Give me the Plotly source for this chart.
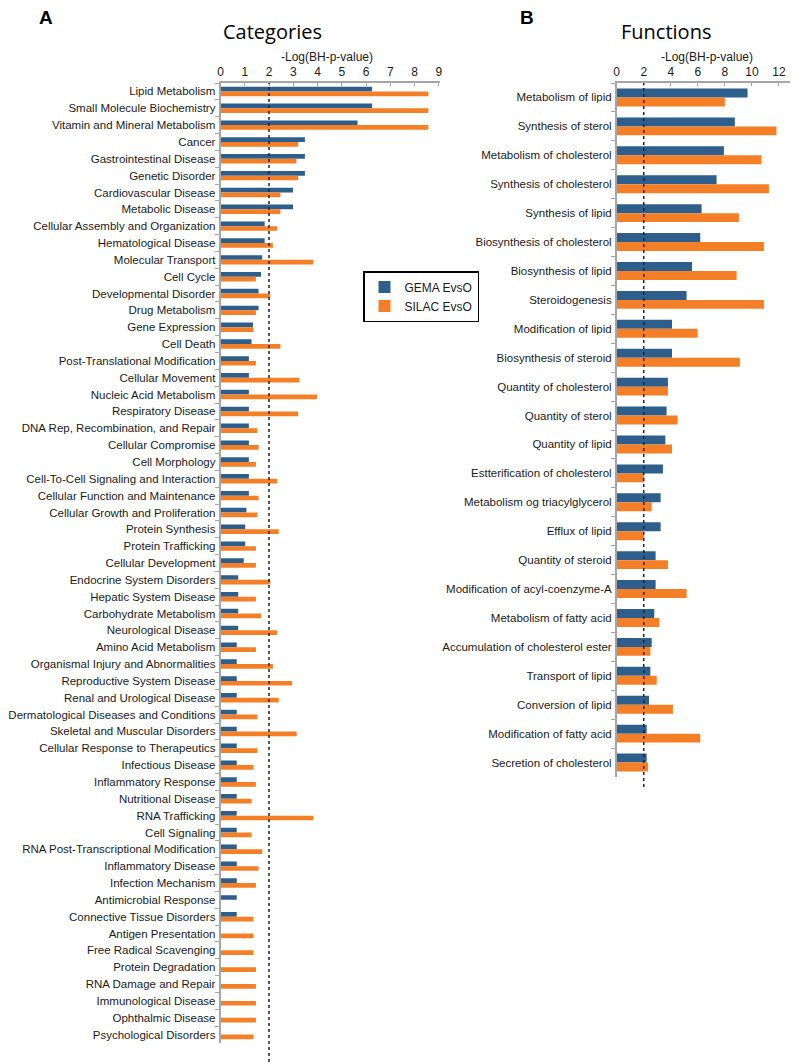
import plotly.graph_objects as go

# ---------------- Data ----------------
categories = [
    "Lipid Metabolism", "Small Molecule Biochemistry", "Vitamin and Mineral Metabolism",
    "Cancer", "Gastrointestinal Disease", "Genetic Disorder", "Cardiovascular Disease",
    "Metabolic Disease", "Cellular Assembly and Organization", "Hematological Disease",
    "Molecular Transport", "Cell Cycle", "Developmental Disorder", "Drug Metabolism",
    "Gene Expression", "Cell Death", "Post-Translational Modification", "Cellular Movement",
    "Nucleic Acid Metabolism", "Respiratory Disease", "DNA Rep, Recombination, and Repair",
    "Cellular Compromise", "Cell Morphology", "Cell-To-Cell Signaling and Interaction",
    "Cellular Function and Maintenance", "Cellular Growth and Proliferation",
    "Protein Synthesis", "Protein Trafficking", "Cellular Development",
    "Endocrine System Disorders", "Hepatic System Disease", "Carbohydrate Metabolism",
    "Neurological Disease", "Amino Acid Metabolism", "Organismal Injury and Abnormalities",
    "Reproductive System Disease", "Renal and Urological Disease",
    "Dermatological Diseases and Conditions", "Skeletal and Muscular Disorders",
    "Cellular Response to Therapeutics", "Infectious Disease", "Inflammatory Response",
    "Nutritional Disease", "RNA Trafficking", "Cell Signaling",
    "RNA Post-Transcriptional Modification", "Inflammatory Disease", "Infection Mechanism",
    "Antimicrobial Response", "Connective Tissue Disorders", "Antigen Presentation",
    "Free Radical Scavenging", "Protein Degradation", "RNA Damage and Repair",
    "Immunological Disease", "Ophthalmic Disease", "Psychological Disorders",
]
cat_gema = [
    6.25, 6.25, 5.65, 3.48, 3.48, 3.48, 2.99, 2.99, 1.82, 1.82,
    1.72, 1.67, 1.57, 1.57, 1.34, 1.28, 1.17, 1.17, 1.17, 1.17,
    1.17, 1.17, 1.17, 1.17, 1.17, 1.07, 1.02, 1.02, 0.96, 0.73,
    0.73, 0.73, 0.73, 0.67, 0.67, 0.67, 0.67, 0.67, 0.67, 0.67,
    0.67, 0.67, 0.67, 0.67, 0.67, 0.67, 0.67, 0.67, 0.67, 0.67,
    0, 0, 0, 0, 0, 0, 0,
]
cat_silac = [
    8.57, 8.57, 8.57, 3.20, 3.13, 3.20, 2.47, 2.47, 2.34, 2.16,
    3.83, 1.46, 2.05, 1.46, 1.36, 2.47, 1.46, 3.25, 3.98, 3.20,
    1.52, 1.57, 1.46, 2.34, 1.57, 1.52, 2.40, 1.46, 1.46, 2.05,
    1.46, 1.67, 2.34, 1.46, 2.16, 2.95, 2.40, 1.52, 3.14, 1.52,
    1.36, 1.46, 1.28, 3.83, 1.28, 1.72, 1.57, 1.46, 0, 1.36,
    1.36, 1.36, 1.46, 1.46, 1.46, 1.46, 1.36,
]

functions = [
    "Metabolism of lipid", "Synthesis of sterol", "Metabolism of cholesterol",
    "Synthesis of cholesterol", "Synthesis of lipid", "Biosynthesis of cholesterol",
    "Biosynthesis of lipid", "Steroidogenesis", "Modification of lipid",
    "Biosynthesis of steroid", "Quantity of cholesterol", "Quantity of sterol",
    "Quantity of lipid", "Estterification of cholesterol", "Metabolism og triacylglycerol",
    "Efflux of lipid", "Quantity of steroid", "Modification of acyl-coenzyme-A",
    "Metabolism of fatty acid", "Accumulation of cholesterol ester", "Transport of lipid",
    "Conversion of lipid", "Modification of fatty acid", "Secretion of cholesterol",
]
fun_gema = [
    9.68, 8.74, 7.93, 7.39, 6.28, 6.18, 5.57, 5.17, 4.09, 4.09,
    3.79, 3.69, 3.60, 3.42, 3.25, 3.25, 2.88, 2.88, 2.78, 2.59,
    2.49, 2.39, 2.22, 2.22,
]
fun_silac = [
    8.00, 11.82, 10.71, 11.26, 9.04, 10.89, 8.87, 10.89, 5.99, 9.11,
    3.79, 4.51, 4.09, 2.02, 2.59, 2.02, 3.79, 5.17, 3.15, 2.49,
    2.96, 4.16, 6.18, 2.32,
]

series_names = ["GEMA EvsO", "SILAC EvsO"]
threshold = 2

# ---------------- Styling ----------------
OFF = 8            # default page body margin
W, H = 798 - OFF, 1064 - OFF
BLUE = "#2E5E8C"
ORANGE = "#F47F26"
AXIS_GRAY = "#A6A6A6"
FONT = "Liberation Sans"
TITLE_FONT = "Open Sans"
TXT = "#1a1a1a"

def px_x(p):
    return (p - OFF) / W

def px_y(p):
    return 1 - (p - OFF) / H

fig = go.Figure()

wl = 0.28  # bar width (category units), left panel
wr = 0.31  # right panel

fig.add_trace(go.Bar(y=categories, x=cat_gema, orientation="h", name=series_names[0],
                     marker=dict(color=BLUE, line=dict(width=0)), width=wl, offset=-wl,
                     xaxis="x", yaxis="y", legendgroup="g"))
fig.add_trace(go.Bar(y=categories, x=cat_silac, orientation="h", name=series_names[1],
                     marker=dict(color=ORANGE, line=dict(width=0)), width=wl, offset=0,
                     xaxis="x", yaxis="y", legendgroup="s"))
fig.add_trace(go.Bar(y=functions, x=fun_gema, orientation="h", name=series_names[0],
                     marker=dict(color=BLUE, line=dict(width=0)), width=wr, offset=-wr,
                     xaxis="x2", yaxis="y2", showlegend=False, legendgroup="g"))
fig.add_trace(go.Bar(y=functions, x=fun_silac, orientation="h", name=series_names[1],
                     marker=dict(color=ORANGE, line=dict(width=0)), width=wr, offset=0,
                     xaxis="x2", yaxis="y2", showlegend=False, legendgroup="s"))

top = px_y(83)
xcommon = dict(side="top", showline=True, linecolor=AXIS_GRAY, linewidth=1.5,
               ticks="inside", ticklen=3, tickcolor=AXIS_GRAY, showgrid=False,
               zeroline=False, automargin=False, ticklabelstandoff=0,
               tickfont=dict(family=FONT, size=12, color=TXT))
ycommon = dict(autorange="reversed", showline=True, linecolor=AXIS_GRAY, linewidth=1.5,
               ticks="outside", ticklen=4, tickcolor=AXIS_GRAY, tickson="boundaries",
               showgrid=False, zeroline=False, automargin=False, ticklabelstandoff=1,
               tickfont=dict(family=FONT, size=11.5, color=TXT))

fig.update_layout(
    width=W, height=H,
    margin=dict(l=0, r=0, t=0, b=0, autoexpand=False),
    paper_bgcolor="white", plot_bgcolor="white",
    barmode="overlay",
    xaxis=dict(domain=[px_x(220.5), px_x(440)], range=[0, 9.05], dtick=1, anchor="y", **xcommon),
    yaxis=dict(domain=[px_y(1043), top], anchor="x", **ycommon),
    xaxis2=dict(domain=[px_x(616.7), px_x(790)], range=[0, 12.82], dtick=2, anchor="y2", **xcommon),
    yaxis2=dict(domain=[px_y(777), top], anchor="x2", **ycommon),
    legend=dict(x=px_x(363), y=px_y(271), xanchor="left", yanchor="top",
                bordercolor="black", borderwidth=1.5, bgcolor="white",
                font=dict(family=FONT, size=12, color=TXT),
                itemwidth=30, tracegroupgap=0),
    showlegend=True,
)

# threshold dashed lines
fig.add_shape(type="line", xref="x", yref="paper", x0=threshold, x1=threshold,
              y0=px_y(1062), y1=top, line=dict(color="#222222", width=1.5, dash="3px,3px"))
fig.add_shape(type="line", xref="x2", yref="paper", x0=threshold, x1=threshold,
              y0=px_y(787), y1=top, line=dict(color="#222222", width=1.5, dash="3px,3px"))

ann = []
ann.append(dict(text="<b>A</b>", x=px_x(46), y=px_y(17), font=dict(family=FONT, size=19, color="black")))
ann.append(dict(text="<b>B</b>", x=px_x(527), y=px_y(17), font=dict(family=FONT, size=19, color="black")))
ann.append(dict(text="Categories", x=px_x(272.5), y=px_y(32), font=dict(family=TITLE_FONT, size=20, color="black")))
ann.append(dict(text="Functions", x=px_x(665.5), y=px_y(32), font=dict(family=TITLE_FONT, size=20, color="black")))
ann.append(dict(text="-Log(BH-p-value)", x=px_x(327), y=px_y(57), font=dict(family=FONT, size=12, color=TXT)))
ann.append(dict(text="-Log(BH-p-value)", x=px_x(706.5), y=px_y(57), font=dict(family=FONT, size=12, color=TXT)))
for a in ann:
    a.update(xref="paper", yref="paper", showarrow=False, xanchor="center", yanchor="middle")
fig.update_layout(annotations=ann)

fig.write_html("out.html")
